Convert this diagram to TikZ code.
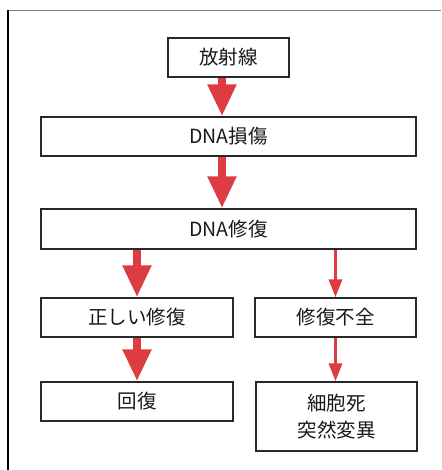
\documentclass[tikz,border=0pt]{standalone}
\usepackage{fontspec}
\setmainfont{Noto Sans CJK JP}
\usetikzlibrary{arrows.meta}
\definecolor{arrred}{RGB}{221,60,66}
\definecolor{boxline}{RGB}{40,40,40}
\tikzset{
  box/.style={draw=boxline, line width=1.3pt, fill=white, inner sep=0pt,
    font=\fontsize{19.5}{27}\selectfont, text=black!90, align=center},
  bigarrow/.style={draw=arrred, line width=8pt, -{Triangle[width=27pt,length=32pt]}, arrred},
  thinarrow/.style={draw=arrred, line width=3.5pt, -{Triangle[width=13pt,length=18pt]}, arrred},
}
\begin{document}
\begin{tikzpicture}[x=1pt,y=-1pt]
\useasboundingbox (0,0) rectangle (441,470);
\draw[black!50, line width=1.5pt] (8,10.5) -- (441,10.5);
\draw[black, line width=1.3pt] (8,10) -- (8,470);

\node[box, minimum width=121pt, minimum height=39pt] (rad) at (228.5,57.5) {放射線};
\node[box, minimum width=375pt, minimum height=39pt] (dmg) at (228.5,136.5) {DNA損傷};
\node[box, minimum width=375pt, minimum height=40pt] (rep) at (228.5,229) {DNA修復};
\node[box, minimum width=192pt, minimum height=39pt] (ok) at (137,317.5) {正しい修復};
\node[box, minimum width=161pt, minimum height=39pt] (ng) at (335.5,317.5) {修復不全};
\node[box, minimum width=192pt, minimum height=39pt] (rec) at (137,401.5) {回復};
\node[box, minimum width=161pt, minimum height=69pt] (death) at (336.5,416.5) {細胞死\\突然変異};

\draw[bigarrow] ([xshift=-6.5pt]rad.south) -- ([xshift=-6.5pt]dmg.north);
\draw[bigarrow] ([xshift=-6.5pt]dmg.south) -- ([xshift=-6.5pt]rep.north);
\draw[bigarrow] (rep.south -| ok.north) -- (ok.north);
\draw[thinarrow] (rep.south -| ng.north) -- (ng.north);
\draw[bigarrow] (ok.south) -- (rec.north);
\draw[thinarrow] (ng.south) -- (ng.south |- death.north);
\end{tikzpicture}
\end{document}
